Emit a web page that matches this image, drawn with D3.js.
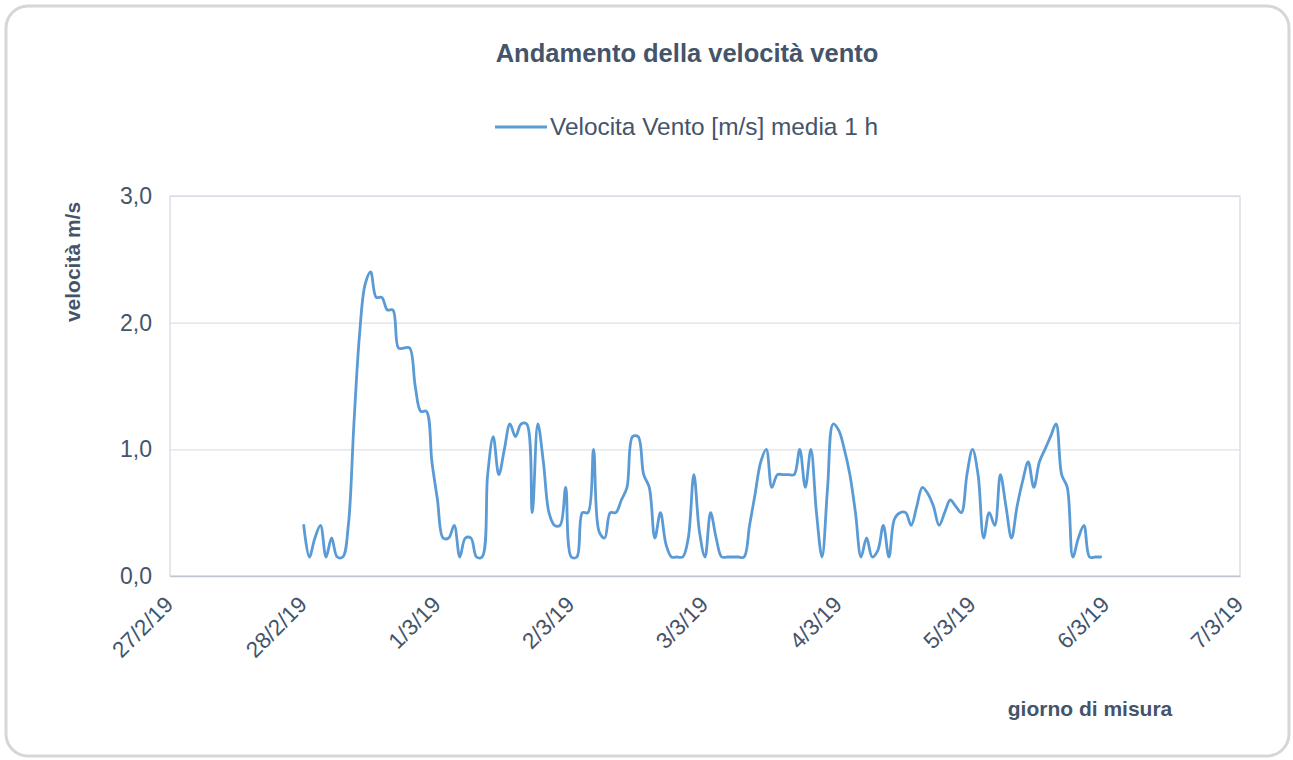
<!DOCTYPE html>
<html>
<head>
<meta charset="utf-8">
<script src="https://cdn.jsdelivr.net/npm/d3@7"></script>
<style>
  body { margin: 0; background: #ffffff; }
  svg { display: block; font-family: "Liberation Sans", Arial, sans-serif; }
</style>
</head>
<body>
<svg id="chart" width="1293" height="760"></svg>
<script>
'use strict';

// titles and labels
var chartTitle = 'Andamento della velocità vento';
var seriesName = 'Velocita Vento [m/s] media 1 h';
var yTitle = 'velocità m/s';
var xTitle = 'giorno di misura';

// x axis: one tick per day, 27/2/19 .. 7/3/19
var firstDay = new Date(2019, 1, 27);
var lastDay = new Date(2019, 2, 7);
// first hourly reading
var firstReading = new Date(2019, 1, 28, 0);

// y axis ticks
var yTicks = [0, 1, 2, 3];

// wind speed, hourly means (m/s)
var speed = [
  0.4, 0.15, 0.3, 0.4, 0.15, 0.3, 0.15, 0.15, 0.4, 1.2,
  1.9, 2.3, 2.4, 2.2, 2.2, 2.1, 2.1, 1.8, 1.8, 1.8,
  1.5, 1.3, 1.3, 0.9, 0.6, 0.3, 0.3, 0.4, 0.15, 0.3,
  0.3, 0.15, 0.15, 0.8, 1.1, 0.8, 1.0, 1.2, 1.1, 1.2,
  1.2, 0.5, 1.2, 0.9, 0.5, 0.4, 0.4, 0.7, 0.15, 0.15,
  0.5, 0.5, 1.0, 0.35, 0.3, 0.5, 0.5, 0.6, 0.7, 1.1,
  1.1, 0.8, 0.7, 0.3, 0.5, 0.25, 0.15, 0.15, 0.15, 0.3,
  0.8, 0.35, 0.15, 0.5, 0.3, 0.15, 0.15, 0.15, 0.15, 0.15,
  0.4, 0.65, 0.9, 1.0, 0.7, 0.8, 0.8, 0.8, 0.8, 1.0,
  0.7, 1.0, 0.5, 0.15, 0.7, 1.2, 1.15, 1.0, 0.8, 0.5,
  0.15, 0.3, 0.15, 0.2, 0.4, 0.15, 0.45, 0.5, 0.5, 0.4,
  0.55, 0.7, 0.65, 0.55, 0.4, 0.5, 0.6, 0.55, 0.5, 0.8,
  1.0, 0.8, 0.3, 0.5, 0.4, 0.8, 0.55, 0.3, 0.55, 0.75,
  0.9, 0.7, 0.9, 1.0, 1.1, 1.2, 0.8, 0.7, 0.15, 0.3,
  0.4, 0.15, 0.15, 0.15
];

var textColor = '#44546a';
var lineColor = '#5b9bd5';

var svg = d3.select('#chart');

// card frame
svg.append('rect')
  .attr('x', 6).attr('y', 6)
  .attr('width', 1283).attr('height', 750)
  .attr('rx', 22).attr('ry', 22)
  .attr('fill', '#ffffff')
  .attr('stroke', '#d6d6d6')
  .attr('stroke-width', 3);

var margin = {left: 170, top: 196, right: 1240, bottom: 576};

var x = d3.scaleTime()
  .domain([firstDay, lastDay])
  .range([margin.left, margin.right]);

var y = d3.scaleLinear()
  .domain([0, 3])
  .range([margin.bottom, margin.top]);

var itFormat = d3.formatLocale({decimal: ',', thousands: '.', grouping: [3], currency: ['', '€']}).format('.1f');

// gridlines + y labels
var yAxis = svg.append('g')
  .attr('transform', 'translate(' + margin.left + ',0)')
  .call(d3.axisLeft(y).tickValues(yTicks).tickFormat(itFormat)
    .tickSize(-(margin.right - margin.left)).tickPadding(18));
yAxis.select('.domain').remove();
yAxis.selectAll('.tick line').attr('stroke', '#dde2ea').attr('stroke-width', 1.2);
yAxis.selectAll('.tick text')
  .attr('fill', textColor)
  .style('font-size', '23px');

// plot area border
svg.append('rect')
  .attr('x', margin.left).attr('y', margin.top)
  .attr('width', margin.right - margin.left)
  .attr('height', margin.bottom - margin.top)
  .attr('fill', 'none')
  .attr('stroke', '#d3d9e3')
  .attr('stroke-width', 1.2);

// x axis
var xAxis = svg.append('g')
  .attr('transform', 'translate(0,' + margin.bottom + ')')
  .call(d3.axisBottom(x).ticks(d3.timeDay.every(1))
    .tickFormat(d3.timeFormat('%-d/%-m/%y')).tickSize(0));
xAxis.select('.domain').attr('stroke', '#bfc6d2').attr('stroke-width', 1.5);
xAxis.selectAll('.tick text')
  .attr('fill', textColor)
  .style('font-size', '22.5px')
  .attr('text-anchor', 'end')
  .attr('dy', null)
  .attr('y', null)
  .attr('transform', 'translate(4,30) rotate(-45)');

// the series
var times = speed.map(function(d, i) { return d3.timeHour.offset(firstReading, i); });

var line = d3.line()
  .x(function(d, i) { return x(times[i]); })
  .y(function(d) { return y(d); })
  .curve(d3.curveCatmullRom.alpha(0.5));

svg.append('path')
  .datum(speed)
  .attr('d', line)
  .attr('fill', 'none')
  .attr('stroke', lineColor)
  .attr('stroke-width', 2.8)
  .attr('stroke-linejoin', 'round')
  .attr('stroke-linecap', 'round');

// title
svg.append('text')
  .attr('x', 687).attr('y', 62)
  .attr('text-anchor', 'middle')
  .attr('fill', textColor)
  .style('font-size', '25.5px')
  .style('font-weight', 'bold')
  .text(chartTitle);

// legend
svg.append('line')
  .attr('x1', 495).attr('x2', 547)
  .attr('y1', 127).attr('y2', 127)
  .attr('stroke', lineColor)
  .attr('stroke-width', 2.8);
svg.append('text')
  .attr('x', 550).attr('y', 135)
  .attr('fill', textColor)
  .style('font-size', '24.4px')
  .text(seriesName);

// axis titles
svg.append('text')
  .attr('transform', 'translate(80,262) rotate(-90)')
  .attr('text-anchor', 'middle')
  .attr('fill', textColor)
  .style('font-size', '21px')
  .style('font-weight', 'bold')
  .text(yTitle);

svg.append('text')
  .attr('x', 1090).attr('y', 716)
  .attr('text-anchor', 'middle')
  .attr('fill', textColor)
  .style('font-size', '21px')
  .style('font-weight', 'bold')
  .text(xTitle);
</script>
</body>
</html>
